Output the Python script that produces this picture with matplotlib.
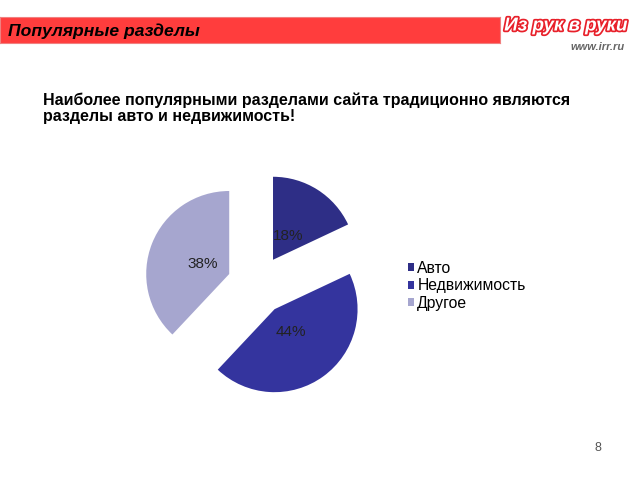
import matplotlib
matplotlib.use('Agg')
import matplotlib.pyplot as plt
import matplotlib.patheffects as pe

plt.rcParams['font.family'] = ['Liberation Sans', 'DejaVu Sans']

# данные
labels = ['Авто', 'Недвижимость', 'Другое']
shares = [18, 44, 38]
colors = ['#2e2e86', '#34349e', '#a6a6cf']

fig = plt.figure(figsize=(6.4, 4.8), dpi=100)

# красная полоса заголовка
bar = fig.add_axes([0, 1 - 43 / 480, 500 / 640, 26 / 480])
bar.set_facecolor('#ff3d3d')
bar.set_xticks([])
bar.set_yticks([])
for s in bar.spines.values():
    s.set_color('#f08080')
fig.text(8 / 640, 1 - 31 / 480, 'Популярные разделы', fontsize=12.6,
         fontweight='bold', fontstyle='italic', va='center', ha='left')

# логотип
fig.text(566 / 640, 1 - 26 / 480, 'Из рук в руки', fontsize=13.5,
         fontweight='bold', fontstyle='italic', color='white', ha='center',
         va='center',
         path_effects=[pe.withStroke(linewidth=2.5, foreground='#e8202a')])
fig.text(625 / 640, 1 - 47 / 480, 'www.irr.ru', fontsize=8,
         fontstyle='italic', fontweight='bold', color='#666666',
         ha='right', va='center')

fig.text(43 / 640, 1 - 108.5 / 480,
         'Наиболее популярными разделами сайта традиционно являются\n'
         'разделы авто и недвижимость!',
         fontsize=11.5, fontweight='bold', ha='left', va='center',
         linespacing=1.1)

# круговая диаграмма
r = 83
cx, cy = 257, 285
half = 150
ax = fig.add_axes([(cx - half) / 640, (480 - cy - half) / 480,
                   2 * half / 640, 2 * half / 480])
wedges, texts, autotexts = ax.pie(
    shares, colors=colors, startangle=90, counterclock=False,
    explode=[0.36, 0.36, 0.36], autopct='%d%%', pctdistance=0.34,
    textprops={'fontsize': 11, 'color': '#222222'})
ax.set_xlim(-half / r, half / r)
ax.set_ylim(-half / r, half / r)
ax.set_aspect('equal')

# легенда
leg = fig.legend(wedges, labels, loc='upper left',
                 bbox_to_anchor=(400 / 640, 1 - 253 / 480), frameon=False,
                 fontsize=11.3, handlelength=0.4, handleheight=0.4,
                 handletextpad=0.2, labelspacing=0.16, borderpad=0)

fig.text(598 / 640, 1 - 448 / 480, '8', fontsize=9, color='#555555',
         ha='center', va='center')

fig.savefig('out.png', dpi=100)
